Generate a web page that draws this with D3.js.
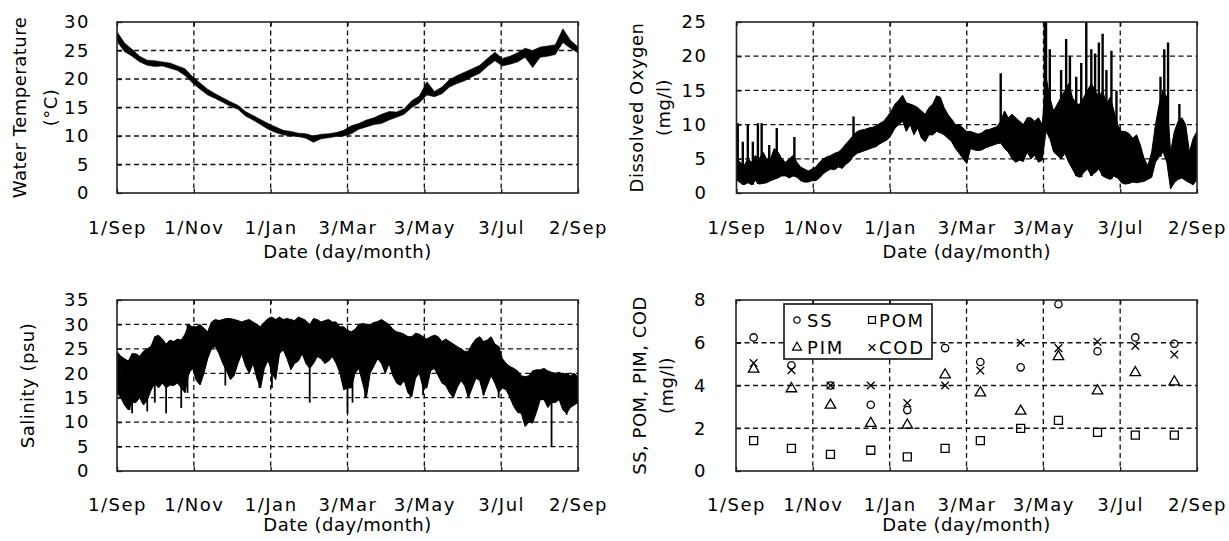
<!DOCTYPE html>
<html>
<head>
<meta charset="utf-8">
<script src="https://cdn.jsdelivr.net/npm/d3@7/dist/d3.min.js"></script>
<style>
body { margin: 0; background: #fff; }
svg text { font-family: "DejaVu Sans", sans-serif; font-size: 18px; fill: #000; }
.tick text { letter-spacing: 1.5px; }
</style>
</head>
<body>
<svg id="chart" width="1229" height="541"></svg>
<script>
// ---------- data ----------
var tickDateStrings = ["2006-09-01", "2006-11-01", "2007-01-01", "2007-03-03", "2007-05-03", "2007-07-03", "2007-09-02"];

// water temperature, band (min / max) read every 6 days from 1 Sep
var tempStepDays = 6;
var tempLo = [26.6,24.8,24.0,23.0,22.4,22.2,22.3,21.9,21.5,20.6,19.3,18.2,17.2,16.6,15.9,15.2,14.7,13.5,12.8,12.0,11.2,10.6,10.2,10.0,9.9,9.6,8.9,9.5,9.7,9.9,10.0,10.4,11.2,11.6,12.0,12.2,12.8,13.3,13.8,15.0,15.8,17.2,16.9,17.4,18.6,19.2,19.7,20.4,21.0,22.2,23.2,22.3,22.6,23.0,23.8,22.0,23.8,24.0,24.3,26.4,25.4,24.6];
var tempHi = [28.3,26.3,25.2,24.0,23.3,23.2,23.0,22.8,22.3,21.8,20.4,19.3,18.2,17.4,16.7,16.0,15.4,14.3,13.6,12.9,12.2,11.6,11.0,10.8,10.5,10.4,10.0,10.3,10.4,10.6,11.0,11.8,12.2,12.8,13.2,13.8,14.3,14.2,14.8,16.2,17.0,19.5,17.8,18.6,19.9,20.6,21.2,21.8,22.4,23.6,24.7,23.6,24.0,24.6,25.4,25.0,25.6,25.8,26.0,28.8,26.8,25.6];

// dissolved oxygen: core band every 3 days, plus single spikes
var doStepDays = 3;
var doLo = [1.9,1.5,1.2,1.5,1.2,1.8,1.3,1.4,1.5,1.8,
  2,2.2,2.5,2.5,2.2,2.5,2.3,1.8,1.6,1.6,
  1.8,1.8,2.2,2.8,3.2,3.5,3.4,3.8,3.6,4.2,
  4.6,5.4,5.8,6,6.2,6.4,6.6,6.8,7.2,7.5,
  7.8,8.5,9.5,10,10.5,9,10,8.5,9.5,8,
  7.5,8.5,8.5,9,8.8,8.5,8,7.5,6.5,5.8,
  5,4.3,6.5,6.3,6.2,6.3,6.6,6.8,7,7.2,
  7.3,6.5,6,5,4.5,4.8,4.6,6,5,5.5,
  4.5,4.8,9,8,6,5.5,5,5.8,4.5,3.5,
  2.5,2.3,3,3.5,2.5,3,3.5,2.5,2.2,2,
  2.5,2.2,1.5,1.3,1.4,1.6,1.5,1.6,1.7,2,
  2.3,4.5,5.3,6,4.5,0.6,1.5,2,2.2,1.8,
  1.5,1.2,2];
var doHi = [5,4.5,4,5,4.5,5.5,5,6,5,5,
  6.5,6,5,4.5,5,5.5,4.5,3.8,3.5,3.2,
  3.5,3.8,4.5,5,5.3,5.5,5.8,6,6.5,7.2,
  7.8,8.5,9,9.2,9.3,9.5,9.6,9.8,10.2,10.5,
  11.2,12,13,13.6,14.3,13.2,13,12.8,12.5,12,
  11.5,12.5,13,14.2,14,12.5,11.5,10.8,10,10,
  9.5,9,9,8.8,8.6,8.8,9.2,9.3,9.5,9.7,
  10.5,12,11,11.5,11,10.5,10,11,11,10.5,
  11,10,17,14,12,13,14,15,16,14,
  13,13,14,15,16,15,14,15,13,14,
  12,10,9,9,8.7,8,8.5,7,5,4,
  6,10,13,15,14,6,9,10.5,11,10,
  6,8,9];
var doSpikeDays   = [1, 5, 9, 13, 17, 20, 26, 32, 46, 93, 210, 245, 246, 249, 258, 262, 265, 270, 274, 278, 282, 285, 288, 291, 294, 298, 302, 337, 340, 343, 352];
var doSpikeValues = [10.2, 7.5, 10, 7.5, 10.2, 10.2, 7, 9.5, 8.2, 11.2, 17.5, 25, 25, 21, 18, 22.5, 20, 17, 19, 25, 21, 20.4, 22, 23.3, 18, 20.8, 15, 17, 21, 22, 13];

// salinity: core band every 3 days, plus downward spikes
var salStepDays = 3;
var salLo = [16,15,13.5,12.5,14,14,15,13.5,14.5,16.5,
  18,17,18,17,17.6,17.5,18,17,16,20,
  21,18.5,17.6,20,23,25,25.5,24,22,20.5,
  18.7,19.5,22,24,21.5,20,22,19,17,21,
  22.7,20,18.7,24,24.8,23,20.7,22,22.5,24,
  22,21,22,23.4,23,22,22.5,23.4,22,20,
  16.6,17,17,20,21,18,15,20,21.5,23,
  22,20,22,19.5,18,17.5,18.5,16,15.2,19,
  20,17,17,20.5,21,19.5,18,17.5,16,15,
  17,18.5,17.5,15,17,19,18.5,15.5,17.5,19.5,
  18,16,17,16.6,15,13.2,12,11.8,9.1,10,
  9.8,12,14.6,14.6,13,14,14,14.6,12.5,11.8,
  13,13.5,14];
var salHi = [24.4,23.5,23,22.5,24,24,23.5,24.5,25,25.5,
  27.5,27.8,27,26,26.8,26.5,27,26.8,28,29.9,
  29.5,29.5,30,29.2,28.5,30.5,31,30.8,31,31.2,
  31.2,31,30.8,30.5,30.8,31,30.5,30,29.5,30.5,
  31.2,31.5,31,31.5,31,31.2,31,30.8,31.5,31.2,
  30.8,30,31.2,31,30.5,30.8,31,30.5,30.5,29.5,
  29.5,28.8,28.5,29,30,30.2,30,30,30.4,30.6,
  31,30.5,30,29,28.5,28.3,28,27.5,27.5,28.2,
  28,27.5,27,27.5,27.8,27.5,26.5,27,26.5,26,
  25.5,25,24.5,24.5,26,27,27.5,26.5,26.8,27.5,
  26,25.5,23,22,21.4,21,20.5,19.5,19.3,19.5,
  20.5,20.7,20.7,21,20.5,20.2,20,20.2,19.8,20,
  19.5,20,19.3];
var salSpikeDays   = [10, 12, 24, 30, 39, 51, 56, 86, 113, 123, 153, 183, 187, 197, 233, 243, 267, 279, 291, 303, 345, 357];
var salSpikeValues = [12.5, 11.8, 12.2, 14, 11.8, 12.9, 16, 17.5, 17, 17, 14, 11.8, 14, 15, 15.2, 15.5, 15, 15, 15.5, 15, 5, 11.5];

// monthly samples: SS, POM, PIM, COD (mg/l)
var sampleDates = ["2006-09-15","2006-10-15","2006-11-15","2006-12-17","2007-01-15","2007-02-14","2007-03-14","2007-04-15","2007-05-15","2007-06-15","2007-07-15","2007-08-15"];
var ssValues  = [6.25, 4.95, 4.0, 3.1, 2.85, 5.75, 5.1, 4.85, 7.8, 5.6, 6.25, 5.95];
var pomValues = [1.42, 1.06, 0.78, 0.97, 0.66, 1.06, 1.42, 1.99, 2.37, 1.81, 1.68, 1.68];
var pimValues = [4.77, 3.85, 3.08, 2.23, 2.15, 4.5, 3.66, 2.8, 5.35, 3.75, 4.6, 4.17];
var codValues = [5.05, 4.72, 4.0, 4.0, 3.18, 4.0, 4.7, 6.0, 5.75, 6.05, 5.85, 5.45];

var tempTicks = [0, 5, 10, 15, 20, 25, 30];
var doTicks = [0, 5, 10, 15, 20, 25];
var salTicks = [0, 5, 10, 15, 20, 25, 30, 35];
var sestonTicks = [0, 2, 4, 6, 8];

// ---------- drawing ----------
var svg = d3.select("#chart");
var parseDay = d3.timeParse("%Y-%m-%d");
var tickDates = tickDateStrings.map(parseDay);
var fmtTick = d3.timeFormat("%-d/%b");

function dayDate(n) {
	return d3.timeDay.offset(tickDates[0], n);
}

function bandRows(lo, hi, step) {
	return lo.map(function (v, i) {
		return { date: dayDate(i * step), lo: v, hi: hi[i] };
	});
}

function makePanel(id, box, ticks, titleLines, labelBase) {
	var w = box.right - box.left, h = box.bottom - box.top;
	var g = svg.append("g").attr("transform", "translate(" + box.left + "," + box.top + ")");
	var x = d3.scaleTime().domain([tickDates[0], tickDates[tickDates.length - 1]]).range([0, w]);
	var y = d3.scaleLinear().domain([0, ticks[ticks.length - 1]]).range([h, 0]);

	g.append("clipPath").attr("id", "clip-" + id)
		.append("rect").attr("width", w).attr("height", h);

	// dashed grid
	var grid = g.append("g").attr("stroke", "#111").attr("stroke-width", 1.3).attr("stroke-dasharray", "5,3.5");
	grid.selectAll("line.v").data(tickDates.slice(1, -1)).enter().append("line")
		.attr("x1", function (d) { return x(d); }).attr("x2", function (d) { return x(d); })
		.attr("y1", 0).attr("y2", h);
	grid.selectAll("line.h").data(ticks.slice(1, -1)).enter().append("line")
		.attr("x1", 0).attr("x2", w)
		.attr("y1", function (d) { return y(d); }).attr("y2", function (d) { return y(d); });

	var plot = g.append("g").attr("clip-path", "url(#clip-" + id + ")");

	// axes with inward ticks
	var xb = g.append("g").attr("transform", "translate(0," + h + ")")
		.call(d3.axisBottom(x).tickValues(tickDates).tickFormat(fmtTick).tickSizeInner(-4).tickSizeOuter(0));
	xb.selectAll("text").attr("y", labelBase.tick).attr("dy", null);
	g.append("g").call(d3.axisTop(x).tickValues(tickDates).tickFormat("").tickSizeInner(-4).tickSizeOuter(0));
	g.append("g")
		.call(d3.axisLeft(y).tickValues(ticks).tickSizeInner(-5).tickSizeOuter(0).tickPadding(box.gap));
	g.selectAll(".domain").remove();
	g.selectAll(".tick line").attr("stroke", "#111").attr("stroke-width", 1.3);

	// frame
	g.append("rect").attr("width", w).attr("height", h)
		.attr("fill", "none").attr("stroke", "#222").attr("stroke-width", 1.6);

	// x title
	g.append("text").attr("x", w / 2).attr("y", h + labelBase.title)
		.attr("text-anchor", "middle").style("letter-spacing", "0.5px").text("Date (day/month)");

	// y title lines
	titleLines.forEach(function (t) {
		g.append("text")
			.attr("transform", "translate(" + (t.x - box.left) + "," + (h / 2) + ") rotate(-90)")
			.attr("text-anchor", "middle").style("letter-spacing", "0.5px").text(t.text);
	});

	return { g: g, plot: plot, x: x, y: y, w: w, h: h };
}

function drawBand(panel, rows, strokeW) {
	var area = d3.area()
		.x(function (d) { return panel.x(d.date); })
		.y0(function (d) { return panel.y(d.lo); })
		.y1(function (d) { return panel.y(d.hi); });
	panel.plot.append("path").datum(rows)
		.attr("d", area)
		.attr("fill", "#000").attr("stroke", "#000").attr("stroke-width", strokeW)
		.attr("stroke-linejoin", "round");
}

// thin vertical excursions, anchored inside the band at the nearest sample
function drawSpikes(panel, rows, step, days, values, anchorKey, strokeW) {
	panel.plot.append("g").selectAll("line").data(days).enter().append("line")
		.attr("x1", function (d) { return panel.x(dayDate(d)); })
		.attr("x2", function (d) { return panel.x(dayDate(d)); })
		.attr("y1", function (d) { return panel.y(rows[Math.round(d / step)][anchorKey]); })
		.attr("y2", function (d, i) { return panel.y(values[i]); })
		.attr("stroke", "#000").attr("stroke-width", strokeW);
}

var topLabels = { tick: 40.5, title: 65 };
var bottomLabels = { tick: 40, title: 59.5 };

// top-left: water temperature
var pTemp = makePanel("temp", { left: 117, right: 578, top: 22, bottom: 193, gap: 27 }, tempTicks,
	[{ x: 26, text: "Water Temperature" }, { x: 56.5, text: "(\u00b0C)" }], topLabels);
drawBand(pTemp, bandRows(tempLo, tempHi, tempStepDays), 0.6);

// top-right: dissolved oxygen
var pDO = makePanel("do", { left: 736.5, right: 1197, top: 22, bottom: 193, gap: 29 }, doTicks,
	[{ x: 643, text: "Dissolved Oxygen" }, { x: 670, text: "(mg/l)" }], topLabels);
var doRows = bandRows(doLo, doHi, doStepDays);
drawBand(pDO, doRows, 1);
drawSpikes(pDO, doRows, doStepDays, doSpikeDays, doSpikeValues, "lo", 2.4);

// bottom-left: salinity
var pSal = makePanel("sal", { left: 117, right: 578, top: 300, bottom: 471, gap: 27 }, salTicks,
	[{ x: 34, text: "Salinity (psu)" }], bottomLabels);
var salRows = bandRows(salLo, salHi, salStepDays);
drawBand(pSal, salRows, 1);
drawSpikes(pSal, salRows, salStepDays, salSpikeDays, salSpikeValues, "hi", 1.8);

// bottom-right: SS, POM, PIM, COD
var pSes = makePanel("ses", { left: 736, right: 1197, top: 300, bottom: 471, gap: 29 }, sestonTicks,
	[{ x: 645.5, text: "SS, POM, PIM, COD" }, { x: 672.5, text: "(mg/l)" }], bottomLabels);

var sDates = sampleDates.map(parseDay);
var seriesDefs = [
	{ name: "SS",  values: ssValues,  shape: d3.symbolCircle,   size: 42 },
	{ name: "POM", values: pomValues, shape: d3.symbolSquare,   size: 64 },
	{ name: "PIM", values: pimValues, shape: d3.symbolTriangle, size: 48 },
	{ name: "COD", values: codValues, shape: d3.symbolTimes,    size: 40 }
];
seriesDefs.forEach(function (s) {
	pSes.plot.selectAll("path.m-" + s.name).data(s.values).enter().append("path")
		.attr("class", "m-" + s.name)
		.attr("transform", function (d, i) { return "translate(" + pSes.x(sDates[i]) + "," + pSes.y(d) + ")"; })
		.attr("d", d3.symbol().type(s.shape).size(s.size))
		.attr("fill", "none").attr("stroke", "#000").attr("stroke-width", 1.3);
});

// legend
var legend = pSes.g.append("g").attr("transform", "translate(48,4)");
legend.append("rect").attr("width", 148).attr("height", 55)
	.attr("fill", "#fff").attr("stroke", "#111").attr("stroke-width", 1.6);
var legendPos = [
	{ sx: 13, sy: 16, tx: 23, ty: 23 },
	{ sx: 88, sy: 16, tx: 95, ty: 23 },
	{ sx: 13, sy: 43.5, tx: 23, ty: 50 },
	{ sx: 88, sy: 43.5, tx: 95, ty: 50 }
];
var legendOrder = [0, 1, 2, 3];
legendOrder.forEach(function (k, j) {
	var s = seriesDefs[k], p = legendPos[j];
	legend.append("path")
		.attr("transform", "translate(" + p.sx + "," + p.sy + ")")
		.attr("d", d3.symbol().type(s.shape).size(s.size * 0.75))
		.attr("fill", "none").attr("stroke", "#000").attr("stroke-width", 1.2);
	legend.append("text").attr("x", p.tx).attr("y", p.ty)
		.style("letter-spacing", "1.8px").text(s.name);
});
</script>
</body>
</html>
